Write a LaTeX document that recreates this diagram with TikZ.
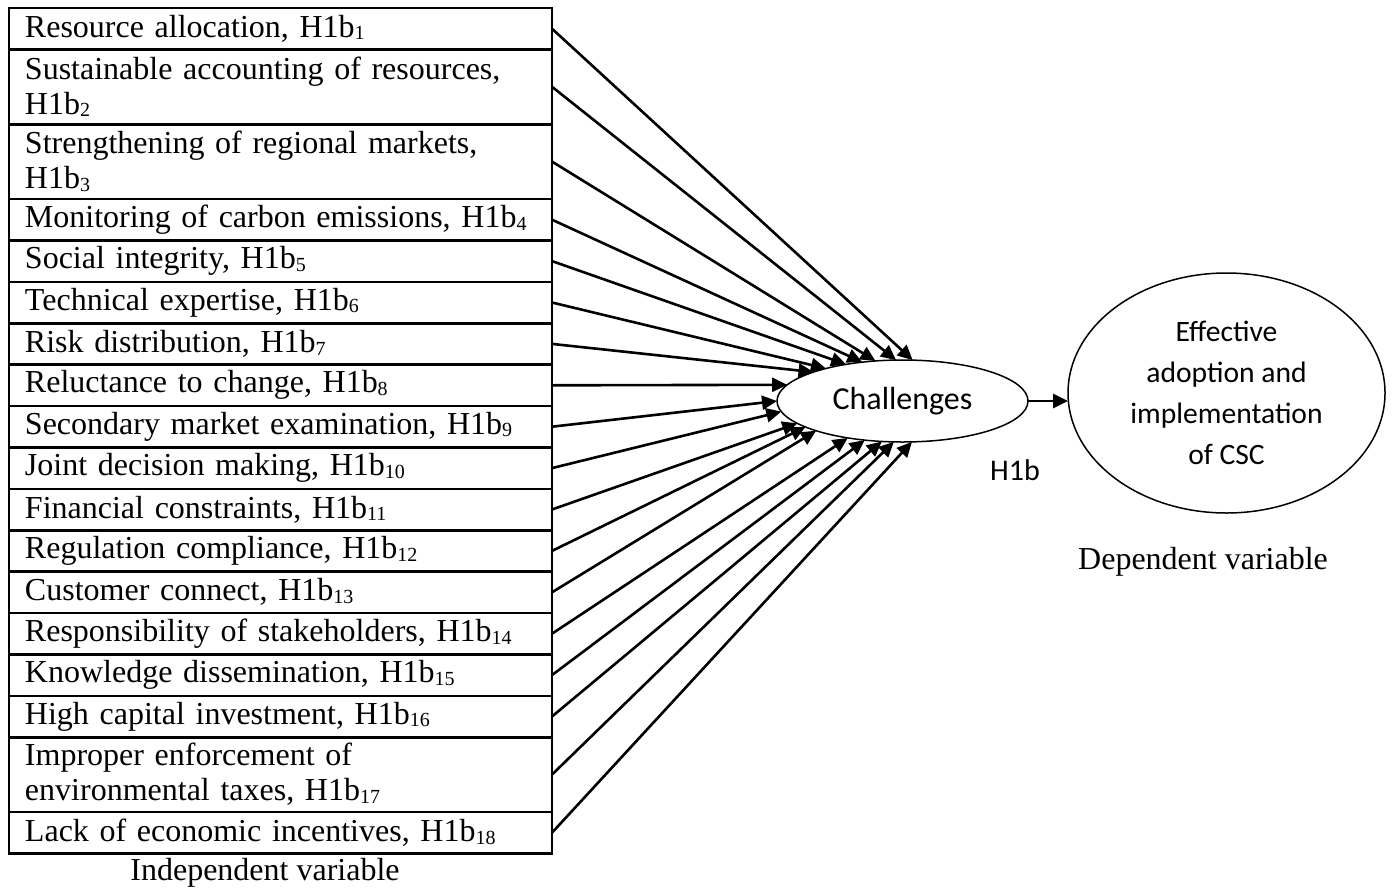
\documentclass[tikz,border=0pt]{standalone}
\usepackage{fontspec}
\setmainfont{Liberation Serif}
\newfontfamily\calibrifont{Carlito}
\usetikzlibrary{arrows.meta,shapes.geometric}
% small lowered index after a hypothesis label
\newcommand\hidx[1]{\raisebox{-1.3pt}{\fontsize{10}{10}\selectfont #1}}

\begin{document}
\begin{tikzpicture}[x=0.5pt,y=-0.5pt,
  varbox/.style={draw, line width=1.3pt, rectangle, anchor=north west,
    minimum width=271.5pt, minimum height=20.7pt, text width=255.5pt,
    align=left, inner xsep=8pt, inner ysep=0pt, outer sep=0pt,
    font=\fontsize{16}{17.5}\selectfont},
  tallbox/.style={varbox, minimum height=37.4pt},
  link/.style={line width=1.3pt, -{Triangle[length=7.5pt,width=7pt]}},
  oval/.style={draw, ellipse, line width=0.75pt, inner sep=0pt, outer sep=0pt},
  caption/.style={font=\fontsize{16}{17.5}\selectfont, inner sep=0pt},
]
\useasboundingbox (0,0) rectangle (1395,888);

% column of independent variables
\node[varbox]  (r1)  at (9,8)            {Resource allocation, H1b\hidx{1}};
\node[tallbox] (r2)  at (r1.south west)  {Sustainable accounting of resources,\\H1b\hidx{2}};
\node[tallbox] (r3)  at (r2.south west)  {Strengthening of regional markets,\\H1b\hidx{3}};
\node[varbox]  (r4)  at (r3.south west)  {Monitoring of carbon emissions, H1b\hidx{4}};
\node[varbox]  (r5)  at (r4.south west)  {Social integrity, H1b\hidx{5}};
\node[varbox]  (r6)  at (r5.south west)  {Technical expertise, H1b\hidx{6}};
\node[varbox]  (r7)  at (r6.south west)  {Risk distribution, H1b\hidx{7}};
\node[varbox]  (r8)  at (r7.south west)  {Reluctance to change, H1b\hidx{8}};
\node[varbox]  (r9)  at (r8.south west)  {Secondary market examination, H1b\hidx{9}};
\node[varbox]  (r10) at (r9.south west)  {Joint decision making, H1b\hidx{10}};
\node[varbox]  (r11) at (r10.south west) {Financial constraints, H1b\hidx{11}};
\node[varbox]  (r12) at (r11.south west) {Regulation compliance, H1b\hidx{12}};
\node[varbox]  (r13) at (r12.south west) {Customer connect, H1b\hidx{13}};
\node[varbox]  (r14) at (r13.south west) {Responsibility of stakeholders, H1b\hidx{14}};
\node[varbox]  (r15) at (r14.south west) {Knowledge dissemination, H1b\hidx{15}};
\node[varbox]  (r16) at (r15.south west) {High capital investment, H1b\hidx{16}};
\node[tallbox] (r17) at (r16.south west) {Improper enforcement of\\environmental taxes, H1b\hidx{17}};
\node[varbox]  (r18) at (r17.south west) {Lack of economic incentives, H1b\hidx{18}};

\node[caption] (indep) at (265,873) {Independent variable};

% mediating construct and outcome
\node[oval, minimum width=125.5pt, minimum height=41pt,
      font=\calibrifont\fontsize{16}{18}\selectfont] (ch) at (902.5,401) {Challenges};
\node[oval, minimum width=158.5pt, minimum height=120pt, align=center,
      font=\calibrifont\fontsize{14.8}{20.5}\selectfont] (eff) at (1226.5,393)
      {Effective\\adoption and\\implementation\\of CSC};

\node[font=\calibrifont\fontsize{15}{17}\selectfont, inner sep=0pt] (hlab) at (1015,470) {H1b};
\node[caption] (dep) at (1203,562) {Dependent variable};

% links into the mediator
\foreach \r/\a in {1/76.3, 2/99.8, 3/124.8, 4/136.7, 5/147.1, 6/157.8,
                   7/162.2, 8/172.8, 9/180.7, 10/185.4, 11/192.9, 12/195.6,
                   13/199, 14/214.3, 15/226, 16/243.4, 17/258.8, 18/283.7}
  \draw[link] (r\r.east) -- (ch.\a);

\draw[link] (ch.east) -- (ch.east -| eff.west);
\end{tikzpicture}
\end{document}
